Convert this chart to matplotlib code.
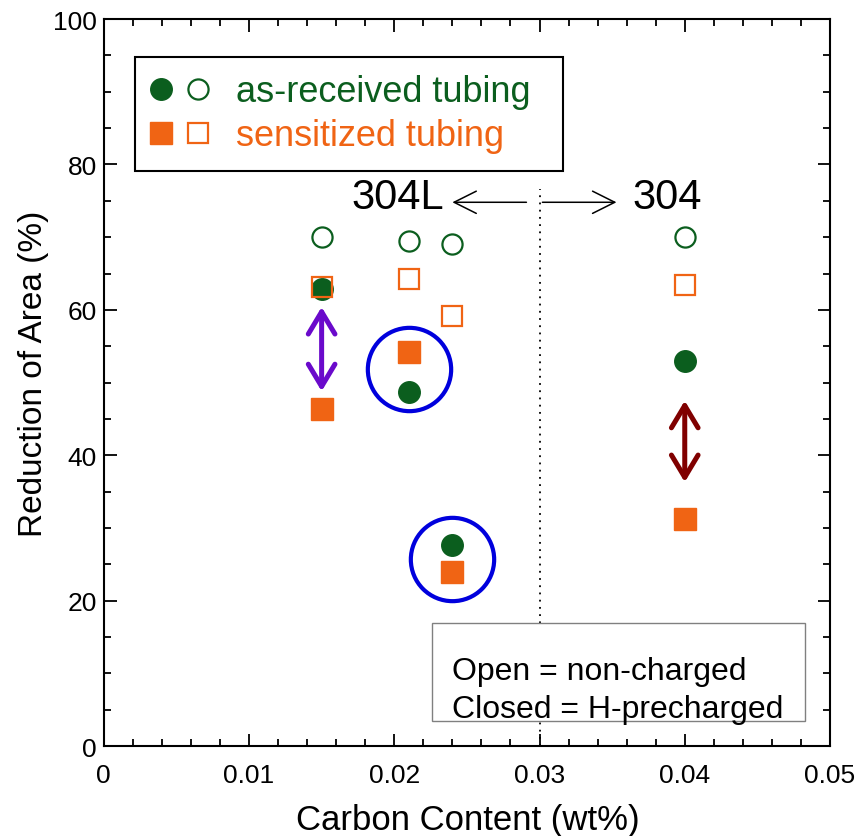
import matplotlib
matplotlib.use("Agg")
import matplotlib.pyplot as plt
from matplotlib.patches import Rectangle
from matplotlib.legend_handler import HandlerTuple
from matplotlib.ticker import MultipleLocator

plt.rcParams['font.family'] = ['Liberation Sans', 'DejaVu Sans']

# data: carbon content (wt%) vs reduction of area (%)
carbon = [0.015, 0.021, 0.024, 0.040]
asrec_open = [70.0, 69.5, 69.0, 70.0]
asrec_closed = [62.9, 48.7, 27.6, 52.9]
sens_open = [63.1, 64.2, 59.2, 63.4]
sens_closed = [46.4, 54.2, 24.0, 31.2]

# highlighted points (blue rings) and drop arrows
ring_x = [0.021, 0.024]
ring_y = [51.9, 25.7]
drop_x = [0.015, 0.040]
drop_top = [60.4, 47.5]
drop_bot = [48.8, 36.3]
drop_colors = ['#6A0ACB', '#800000']

xticks = [0, 0.01, 0.02, 0.03, 0.04, 0.05]
xticklabels = ['0', '0.01', '0.02', '0.03', '0.04', '0.05']
yticks = [0, 20, 40, 60, 80, 100]
yticklabels = ['0', '20', '40', '60', '80', '100']

green = '#0B5E1E'
orange = '#F06414'

fig = plt.figure(figsize=(8.61, 8.37), dpi=100)
ax = fig.add_axes([0.1205, 0.1075, 0.8435, 0.8685])

# dotted divider between 304L and 304
ax.plot([0.03, 0.03], [0, 76.6], color='black', lw=1.3, ls=(0, (1, 3)), zorder=1)

h_ac, = ax.plot(carbon, asrec_closed, 'o', ms=15.5, color=green, mec=green, zorder=3)
h_ao, = ax.plot(carbon, asrec_open, 'o', ms=14.5, mfc='none', mec=green, mew=1.6, zorder=3)
h_sc, = ax.plot(carbon, sens_closed, 's', ms=16, color=orange, mec=orange, zorder=3)
h_so, = ax.plot(carbon, sens_open, 's', ms=15, mfc='none', mec=orange, mew=1.6, zorder=4)

ax.plot(ring_x, ring_y, 'o', ms=60, mfc='none', mec='#0000DD', mew=3.0, zorder=2)

for x, yt, yb, c in zip(drop_x, drop_top, drop_bot, drop_colors):
    ax.annotate('', xy=(x, yt), xytext=(x, yb),
                arrowprops=dict(arrowstyle='<->,head_length=0.8,head_width=0.48',
                                color=c, lw=3.6, shrinkA=0, shrinkB=0,
                                mutation_scale=20))

# 304L <-> 304 labels
ax.text(0.02027, 75.5, '304L', fontsize=30, ha='center', va='center')
ax.text(0.03877, 75.5, '304', fontsize=30, ha='center', va='center')
ax.annotate('', xy=(0.0240, 74.8), xytext=(0.0291, 74.8),
            arrowprops=dict(arrowstyle='->,head_length=0.8,head_width=0.4',
                            color='black', lw=1.1, shrinkA=0, shrinkB=0,
                            mutation_scale=20))
ax.annotate('', xy=(0.0353, 74.8), xytext=(0.0302, 74.8),
            arrowprops=dict(arrowstyle='->,head_length=0.8,head_width=0.4',
                            color='black', lw=1.1, shrinkA=0, shrinkB=0,
                            mutation_scale=20))

# note box
ax.add_patch(Rectangle((0.4517, 0.0344), 0.5145, 0.1348, transform=ax.transAxes,
                       fc='white', ec='#808080', lw=1.0, zorder=5))
ax.text(0.479, 0.0922, 'Open = non-charged', transform=ax.transAxes,
        fontsize=23, va='baseline', zorder=6)
ax.text(0.479, 0.0399, 'Closed = H-precharged', transform=ax.transAxes,
        fontsize=23, va='baseline', zorder=6)

leg = ax.legend([(h_ac, h_ao), (h_sc, h_so)],
                ['as-received tubing', 'sensitized tubing'],
                handler_map={tuple: HandlerTuple(ndivide=None, pad=0.5)},
                loc='upper left', bbox_to_anchor=(0.0432, 0.793, 0.589, 0.155),
                mode='expand', borderaxespad=0, fontsize=26,
                labelcolor=[green, orange], frameon=True, fancybox=False,
                framealpha=1, edgecolor='black', borderpad=0.48,
                handlelength=1.5, handletextpad=0.8, labelspacing=0.25)
leg.get_frame().set_linewidth(1.5)

ax.set_xlim(0, 0.05)
ax.set_ylim(0, 100)
ax.set_xticks(xticks, labels=xticklabels)
ax.set_yticks(yticks, labels=yticklabels)
ax.xaxis.set_minor_locator(MultipleLocator(0.002))
ax.yaxis.set_minor_locator(MultipleLocator(5))
ax.tick_params(which='both', direction='in', top=True, right=True, width=1.3,
               labelsize=19)
ax.tick_params(which='major', length=9)
ax.tick_params(which='minor', length=5)
ax.tick_params(axis='x', pad=12)
ax.tick_params(axis='y', pad=5)
for s in ax.spines.values():
    s.set_linewidth(1.5)

ax.set_xlabel('Carbon Content (wt%)', fontsize=25)
ax.set_ylabel('Reduction of Area (%)', fontsize=24)
ax.xaxis.set_label_coords(0.501, -0.078)
ax.yaxis.set_label_coords(-0.076, 0.514)

plt.savefig('out.png', dpi=100)
